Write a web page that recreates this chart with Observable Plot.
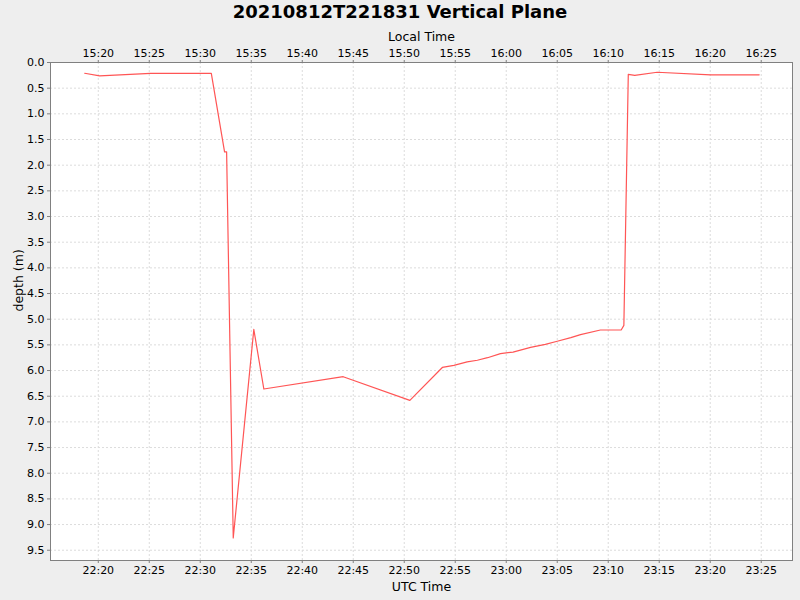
<!DOCTYPE html>
<html>
<head>
<meta charset="utf-8">
<script src="https://cdn.jsdelivr.net/npm/d3@7"></script>
<script src="https://cdn.jsdelivr.net/npm/@observablehq/plot@0.6"></script>
<style>
  html, body { margin: 0; padding: 0; background: #eeeeee; }
  #title { width: 800px; height: 24px; line-height: 24px; text-align: center;
           font-family: "DejaVu Sans", sans-serif; font-weight: bold; font-size: 18px; color: #000; }
  #chart svg { display: block; }
</style>
</head>
<body>
<div id="title">20210812T221831 Vertical Plane</div>
<div id="chart"></div>
<script>
// UTC sample times and depths (m)
const times = ["22:18:40","22:20:08","22:25:08","22:31:05","22:32:23","22:32:35","22:33:14",
  "22:35:15","22:36:14","22:44:01","22:50:33","22:53:44","22:54:52","22:56:10","22:57:10",
  "22:58:10","22:59:26","23:00:40","23:02:23","23:03:50","23:05:00","23:06:20","23:07:17",
  "23:09:14","23:11:16","23:11:32","23:11:58","23:12:36","23:14:48","23:20:02","23:24:48"];
const depths = [0.21,0.26,0.21,0.21,1.74,1.74,9.26,
  5.20,6.36,6.12,6.58,5.94,5.90,5.83,5.80,
  5.75,5.67,5.64,5.55,5.49,5.43,5.36,5.30,
  5.21,5.21,5.12,0.23,0.25,0.19,0.24,0.24];

const utcTicks = ["22:20","22:25","22:30","22:35","22:40","22:45","22:50","22:55","23:00","23:05","23:10","23:15","23:20","23:25"];
const localTicks = ["15:20","15:25","15:30","15:35","15:40","15:45","15:50","15:55","16:00","16:05","16:10","16:15","16:20","16:25"];
const depthTicks = [0,0.5,1,1.5,2,2.5,3,3.5,4,4.5,5,5.5,6,6.5,7,7.5,8,8.5,9,9.5];

const parse = s => new Date(`2021-08-12T${s}Z`);
const data = times.map((t, i) => ({time: parse(t), depth: depths[i]}));
const xt = utcTicks.map(s => parse(s + ":00"));
const idx = d => xt.findIndex(t => +t === +d);

const gridStyle = {stroke: "#dcdcdc", strokeOpacity: 1, strokeDasharray: "2,2", strokeWidth: 1};
const axisStyle = {tickSize: 3, tickPadding: 3, stroke: "#808080", fill: "#000", label: null, fontSize: 11};

const chart = Plot.plot({
  width: 800,
  height: 576,
  marginTop: 38,
  marginBottom: 40,
  marginLeft: 50,
  marginRight: 8,
  style: {fontFamily: "DejaVu Sans, sans-serif", fontSize: "11px", background: "transparent", color: "#000"},
  x: {type: "utc", domain: [parse("22:15:19"), parse("23:28:04")]},
  y: {domain: [0, 9.7], reverse: true},
  marks: [
    Plot.frame({fill: "white", stroke: "none"}),
    Plot.gridX(xt, gridStyle),
    Plot.gridY(depthTicks, gridStyle),
    Plot.axisX(xt, {...axisStyle, anchor: "bottom", tickFormat: d => utcTicks[idx(d)]}),
    Plot.axisX(xt, {...axisStyle, anchor: "top", tickFormat: d => localTicks[idx(d)]}),
    Plot.axisY(depthTicks, {...axisStyle, anchor: "left", tickFormat: d3.format(".1f")}),
    Plot.line(data, {x: "time", y: "depth", stroke: "#ff5555", strokeWidth: 1.2}),
    Plot.frame({stroke: "#808080", strokeWidth: 1}),
    Plot.text(["Local Time"], {frameAnchor: "top", lineAnchor: "middle", dy: -26, text: d => d, fontSize: 12.5, fill: "#000"}),
    Plot.text(["UTC Time"], {frameAnchor: "bottom", lineAnchor: "middle", dy: 26, text: d => d, fontSize: 12.5, fill: "#000"}),
    Plot.text(["depth (m)"], {frameAnchor: "left", lineAnchor: "middle", dx: -32, rotate: -90, text: d => d, fontSize: 12.5, fill: "#000"})
  ]
});
document.getElementById("chart").appendChild(chart);
</script>
</body>
</html>
